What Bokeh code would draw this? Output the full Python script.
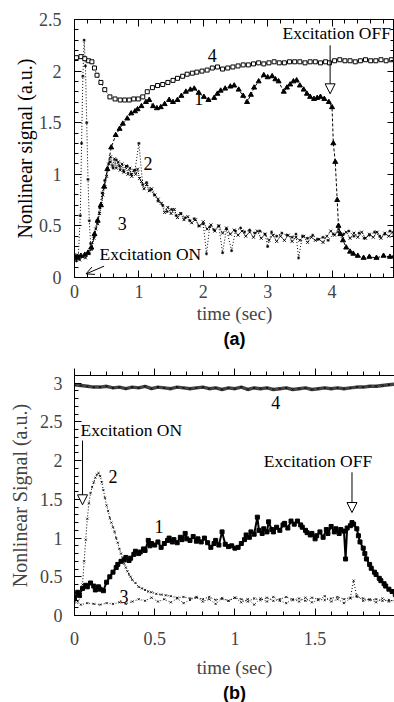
import math
from bokeh.plotting import figure
from bokeh.layouts import column
from bokeh.models import (Range1d, SingleIntervalTicker, LinearAxis, Label, Arrow, Title,
                          NormalHead, OpenHead, CustomJSTickFormatter)
from bokeh.embed import file_html
from bokeh.resources import INLINE

SERIF = "Liberation Serif"

# ---------------- Panel (a) data ----------------
a4_t = [0.03,0.10,0.16,0.22,0.27,0.31,0.35,0.41,0.47,0.55,0.63,0.71,0.78,0.85,0.92,0.99,1.06,1.13,1.21,1.29,
        1.37,1.45,1.53,1.60,1.68,1.75,1.83,1.90,1.98,2.06,2.14,2.22,2.30,2.38,2.46,2.54,2.62,2.70,2.78,2.86,
        2.94,3.02,3.10,3.18,3.26,3.34,3.42,3.50,3.58,3.66,3.74,3.82,3.90,3.96,4.04,4.12,4.20,4.28,4.36,4.44,
        4.52,4.60,4.68,4.76,4.84,4.92]
a4_v = [2.13,2.14,2.12,2.10,2.09,2.03,1.96,1.89,1.82,1.75,1.73,1.72,1.72,1.72,1.73,1.73,1.75,1.80,1.84,1.86,
        1.87,1.89,1.91,1.93,1.95,1.97,1.98,1.99,2.00,2.01,2.03,2.04,2.02,2.03,2.04,2.05,2.06,2.06,2.07,2.08,
        2.07,2.08,2.09,2.08,2.08,2.09,2.09,2.09,2.08,2.09,2.09,2.08,2.09,2.08,2.10,2.11,2.10,2.10,2.09,2.10,
        2.11,2.10,2.10,2.11,2.10,2.11]

a1_t = [0.00,0.05,0.10,0.16,0.21,0.26,0.31,0.36,0.41,0.46,0.51,0.57,0.64,0.70,0.75,0.82,0.88,0.94,0.98,1.04,
        1.11,1.16,1.22,1.28,1.34,1.40,1.47,1.53,1.60,1.66,1.73,1.80,1.86,1.93,2.01,2.08,2.17,2.22,2.27,2.34,
        2.42,2.48,2.55,2.62,2.68,2.74,2.79,2.86,2.94,3.00,3.07,3.12,3.17,3.25,3.30,3.35,3.40,3.45,3.50,3.56,
        3.61,3.66,3.72,3.77,3.82,3.88,3.95,4.00,4.02,4.05,4.08,4.10,4.13,4.17,4.22,4.28,4.33,4.40,4.49,4.58,
        4.69,4.80,4.90,4.97]
a1_v = [0.20,0.19,0.21,0.22,0.24,0.29,0.42,0.55,0.70,0.88,1.05,1.26,1.38,1.44,1.49,1.54,1.59,1.61,1.63,1.66,
        1.70,1.72,1.66,1.64,1.65,1.68,1.72,1.70,1.72,1.76,1.80,1.82,1.83,1.79,1.75,1.72,1.74,1.78,1.81,1.83,
        1.85,1.86,1.82,1.76,1.70,1.77,1.84,1.90,1.96,1.94,1.95,1.92,1.90,1.80,1.84,1.87,1.90,1.91,1.86,1.82,
        1.78,1.75,1.73,1.74,1.75,1.73,1.70,1.65,1.30,1.12,0.75,0.50,0.42,0.36,0.29,0.25,0.23,0.21,0.19,0.20,
        0.19,0.21,0.20,0.21]

a2_t = [0.00,0.04,0.08,0.12,0.17,0.22,0.26,0.30,0.33,0.36,0.39,0.42,0.44,0.47,0.50,0.53,0.56,0.59,0.62,0.65,
        0.68,0.71,0.74,0.77,0.80,0.83,0.86,0.89,0.92,0.95,0.98,1.01,1.04,1.08,1.12,1.16,1.20,1.25,1.30,1.35,
        1.40,1.45,1.50,1.55,1.60,1.65,1.70,1.76,1.82,1.88,1.94,2.00,2.06,2.12,2.18,2.24,2.30,2.36,2.42,2.48,
        2.54,2.60,2.66,2.72,2.78,2.84,2.90,2.96,3.02,3.08,3.14,3.20,3.26,3.32,3.38,3.44,3.50,3.56,3.62,3.68,
        3.74,3.80,3.86,3.92,3.98,4.04,4.10,4.16,4.22,4.28,4.34,4.40,4.46,4.52,4.58,4.64,4.70,4.76,4.82,4.88,
        4.94]
a2_v = [0.18,0.22,0.17,0.20,0.19,0.23,0.27,0.38,0.47,0.52,0.62,0.70,0.80,0.88,0.98,1.10,1.17,1.08,1.15,1.06,
        1.12,1.04,1.10,1.02,1.08,1.00,1.06,0.98,1.04,1.00,1.05,0.96,0.93,0.86,0.90,0.84,0.86,0.80,0.76,0.72,
        0.63,0.68,0.62,0.66,0.58,0.62,0.56,0.59,0.53,0.56,0.50,0.54,0.47,0.51,0.45,0.50,0.43,0.48,0.42,0.46,
        0.41,0.45,0.40,0.44,0.39,0.45,0.38,0.42,0.36,0.41,0.35,0.40,0.36,0.41,0.35,0.39,0.36,0.40,0.34,0.39,
        0.36,0.37,0.34,0.40,0.45,0.41,0.47,0.40,0.44,0.38,0.43,0.39,0.44,0.38,0.42,0.39,0.44,0.38,0.43,0.40,
        0.44]

a3_t = [0.00,0.03,0.06,0.09,0.11,0.13,0.15,0.17,0.19,0.21,0.23,0.25,0.27,0.31,0.35,0.39,0.43,0.47,0.51,0.55,
        0.60,0.65,0.70,0.76,0.82,0.88,0.94,1.00,1.06,1.12,1.18,1.24,1.30,1.37,1.44,1.51,1.58,1.65,1.72,1.79,
        1.86,1.93,2.00,2.05,2.10,2.17,2.24,2.30,2.36,2.44,2.50,2.58,2.64,2.72,2.80,2.88,2.96,3.00,3.06,3.14,
        3.22,3.30,3.38,3.44,3.48,3.54,3.62,3.70,3.78,3.86,3.94,4.02,4.10,4.18,4.26,4.34,4.42,4.50,4.58,4.66,
        4.74,4.82,4.90,4.96]
a3_v = [0.22,0.16,0.21,0.60,1.30,1.95,2.30,2.05,1.50,0.95,0.55,0.33,0.28,0.40,0.55,0.68,0.82,0.94,1.04,1.12,
        1.06,1.14,1.08,1.03,1.08,1.00,1.04,1.30,0.90,0.92,0.85,0.80,0.74,0.70,0.64,0.66,0.60,0.62,0.58,0.55,
        0.57,0.50,0.52,0.23,0.49,0.46,0.50,0.24,0.47,0.26,0.45,0.48,0.44,0.46,0.43,0.45,0.42,0.30,0.44,0.40,
        0.43,0.41,0.39,0.42,0.19,0.40,0.38,0.41,0.37,0.39,0.36,0.42,0.44,0.42,0.45,0.40,0.43,0.38,0.41,0.44,
        0.40,0.42,0.45,0.41]

# ---------------- Panel (b) data ----------------
b4_t = [0.00,0.04,0.08,0.12,0.16,0.20,0.24,0.28,0.32,0.36,0.40,0.44,0.48,0.52,0.56,0.60,0.64,0.68,0.72,0.76,
        0.80,0.84,0.88,0.92,0.96,1.00,1.04,1.08,1.12,1.16,1.20,1.24,1.28,1.32,1.36,1.40,1.44,1.48,1.52,1.56,
        1.60,1.64,1.68,1.72,1.76,1.80,1.84,1.88,1.92,1.96,2.00]
b4_v = [2.98,2.97,2.96,2.95,2.95,2.96,2.94,2.95,2.93,2.95,2.94,2.96,2.93,2.95,2.94,2.93,2.95,2.94,2.93,2.94,
        2.95,2.93,2.94,2.92,2.94,2.93,2.95,2.92,2.94,2.93,2.94,2.92,2.93,2.94,2.92,2.93,2.94,2.92,2.93,2.94,
        2.93,2.94,2.93,2.94,2.95,2.95,2.96,2.96,2.97,2.98,2.99]

b1_t = [0.00,0.02,0.03,0.05,0.07,0.08,0.10,0.12,0.13,0.15,0.16,0.18,0.20,0.22,0.24,0.26,0.27,0.29,0.31,0.32,
        0.34,0.35,0.37,0.38,0.40,0.41,0.43,0.44,0.46,0.47,0.48,0.50,0.52,0.54,0.56,0.58,0.59,0.61,0.62,0.64,
        0.66,0.67,0.69,0.70,0.72,0.74,0.76,0.77,0.79,0.81,0.83,0.85,0.87,0.88,0.90,0.92,0.94,0.96,0.98,1.00,
        1.02,1.04,1.06,1.07,1.09,1.10,1.12,1.14,1.15,1.17,1.18,1.20,1.21,1.23,1.24,1.26,1.28,1.30,1.31,1.33,
        1.35,1.37,1.39,1.41,1.42,1.44,1.45,1.47,1.48,1.50,1.51,1.53,1.55,1.57,1.58,1.60,1.62,1.63,1.65,1.66,
        1.68,1.69,1.70,1.72,1.73,1.74,1.76,1.77,1.78,1.80,1.81,1.82,1.84,1.85,1.87,1.88,1.90,1.91,1.93,1.94,
        1.96,1.98,2.00]
b1_v = [0.22,0.30,0.26,0.35,0.39,0.37,0.42,0.38,0.33,0.37,0.34,0.32,0.43,0.50,0.56,0.62,0.66,0.70,0.72,0.75,
        0.71,0.74,0.79,0.83,0.80,0.82,0.86,0.84,0.97,0.90,0.93,0.91,0.95,0.88,0.93,0.97,1.00,0.95,0.98,0.94,
        1.01,0.98,1.06,0.99,0.97,1.02,0.96,0.99,0.95,1.00,0.94,0.88,0.93,0.97,0.91,1.08,0.92,0.89,0.90,0.87,
        0.88,0.93,0.98,1.04,1.01,1.08,1.05,1.27,1.10,1.06,1.12,1.08,1.21,1.11,1.08,1.14,1.10,1.17,1.19,1.13,
        1.22,1.18,1.22,1.17,1.14,1.10,1.07,1.04,1.06,0.99,1.03,1.08,1.01,1.11,1.06,1.15,1.08,1.12,1.06,1.11,
        1.09,0.73,1.13,1.16,1.20,1.18,1.12,1.03,0.95,0.87,0.80,0.73,0.66,0.61,0.56,0.53,0.48,0.45,0.41,0.38,
        0.34,0.31,0.27]

b2_t = [0.00,0.02,0.04,0.05,0.06,0.07,0.08,0.09,0.10,0.11,0.12,0.13,0.14,0.15,0.16,0.17,0.18,0.19,0.20,0.21,
        0.22,0.23,0.24,0.25,0.26,0.27,0.28,0.29,0.30,0.31,0.32,0.33,0.34,0.35,0.36,0.38,0.40,0.42,0.44,0.46,
        0.48,0.51,0.54,0.57,0.60,0.64,0.68,0.72,0.76,0.80,0.84,0.88,0.92,0.96,1.00,1.04,1.08,1.12,1.16,1.20,
        1.24,1.28,1.32,1.36,1.40,1.44,1.48,1.52,1.56,1.60,1.64,1.68,1.72,1.74,1.76,1.80,1.84,1.88,1.92,1.96,
        2.00]
b2_v = [0.20,0.18,0.24,0.40,0.70,0.98,1.25,1.45,1.58,1.66,1.72,1.78,1.82,1.84,1.80,1.72,1.62,1.52,1.42,1.35,
        1.26,1.20,1.14,1.08,1.00,0.94,0.86,0.80,0.73,0.67,0.62,0.57,0.53,0.50,0.46,0.42,0.37,0.35,0.33,0.31,
        0.30,0.28,0.27,0.26,0.25,0.23,0.24,0.22,0.23,0.21,0.24,0.20,0.22,0.19,0.23,0.21,0.18,0.22,0.20,0.23,
        0.19,0.21,0.24,0.20,0.22,0.19,0.23,0.21,0.20,0.22,0.24,0.21,0.23,0.45,0.24,0.22,0.20,0.21,0.19,0.20,
        0.18]

b3_t = [0.00,0.04,0.08,0.12,0.16,0.20,0.24,0.28,0.32,0.36,0.40,0.44,0.48,0.52,0.56,0.60,0.64,0.68,0.72,0.76,
        0.80,0.84,0.88,0.92,0.96,1.00,1.04,1.08,1.12,1.16,1.20,1.24,1.28,1.32,1.36,1.40,1.44,1.48,1.52,1.56,
        1.60,1.64,1.68,1.72,1.76,1.80,1.84,1.88,1.92,1.96,2.00]
b3_v = [0.17,0.14,0.16,0.15,0.14,0.16,0.15,0.17,0.15,0.18,0.21,0.19,0.23,0.18,0.21,0.17,0.22,0.16,0.20,0.24,
        0.18,0.21,0.15,0.22,0.19,0.23,0.17,0.21,0.14,0.22,0.18,0.24,0.19,0.16,0.21,0.18,0.23,0.17,0.20,0.25,
        0.18,0.21,0.16,0.22,0.26,0.19,0.21,0.17,0.22,0.18,0.20]

TICK_FMT = "return (Math.round(tick*10)/10).toString();"


def style_axis(ax, interval, minor, labels=True, size="18px", standoff=3,
               t_in=7, m_in=4, t_out=0, m_out=0):
    ax.ticker = SingleIntervalTicker(interval=interval, num_minor_ticks=minor)
    ax.axis_line_color = "black"
    ax.axis_line_width = 1
    ax.major_tick_in = t_in
    ax.major_tick_out = t_out
    ax.minor_tick_in = m_in
    ax.minor_tick_out = m_out
    ax.major_tick_line_color = "black"
    ax.minor_tick_line_color = "black"
    if labels:
        ax.formatter = CustomJSTickFormatter(code=TICK_FMT)
        ax.major_label_text_font = SERIF
        ax.major_label_text_font_size = size
        ax.major_label_standoff = standoff
    else:
        ax.formatter = CustomJSTickFormatter(code="return '';")
        ax.major_label_text_font_size = "0px"
        ax.major_label_standoff = 0
    ax.axis_label_text_font = SERIF
    ax.axis_label_text_font_style = "normal"
    ax.axis_label_text_font_size = "19px"


def txt(p, x, y, s, size="18px", align="center"):
    p.add_layout(Label(x=x, y=y, text=s, text_font=SERIF, text_font_size=size,
                       text_align=align, text_baseline="middle", text_color="black"))


def panel_title(p, s, place, size="18px", font="Liberation Sans", style="bold", offset=0, standoff=0):
    p.add_layout(Title(text=s, align="center", text_font=font, text_font_size=size,
                       text_font_style=style, text_color="black", offset=offset,
                       standoff=standoff), place)


# ---------------- Panel (a) ----------------
p1 = figure(width=394, height=352, x_range=Range1d(0, 4.97), y_range=Range1d(0, 2.5),
            output_backend="svg", toolbar_location=None,
            min_border_left=73, min_border_right=0, min_border_top=19, min_border_bottom=75,
            outline_line_color="black")
p1.grid.visible = False
style_axis(p1.xaxis[0], 1, 5, standoff=7)
style_axis(p1.yaxis[0], 0.5, 5, standoff=13)
p1.xaxis[0].axis_label = "time (sec)"
p1.xaxis[0].axis_label_standoff = 2
p1.add_layout(LinearAxis(), "above")
style_axis(p1.above[0], 1, 5, labels=False)
p1.add_layout(LinearAxis(), "right")
style_axis(p1.right[0], 0.5, 5, labels=False)

p1.line(a3_t, a3_v, line_dash="1 2", color="black", line_width=1)
p1.scatter(a3_t, a3_v, marker="asterisk", size=3, color="black", line_width=0.8)
p1.line(a2_t, a2_v, line_dash="1 1", color="black", line_width=1)
p1.scatter(a2_t, a2_v, marker="x", size=4, color="black", line_width=1)
p1.line(a1_t, a1_v, line_dash="3 2", color="black", line_width=1)
p1.scatter(a1_t, a1_v, marker="triangle", size=5, color="black")
p1.line(a4_t, a4_v, line_dash="1 2", color="black", line_width=1)
p1.scatter(a4_t, a4_v, marker="square", size=4, fill_color="white", line_color="black", line_width=1)

p1.add_layout(Arrow(x_start=3.97, y_start=2.25, x_end=3.97, y_end=1.78, line_width=1,
                    end=NormalHead(size=10, fill_color="white", line_color="black", line_width=1)))
p1.add_layout(Arrow(x_start=0.46, y_start=0.11, x_end=0.18, y_end=0.035, line_width=1,
                    end=OpenHead(size=8, line_color="black", line_width=1)))
txt(p1, 3.23, 2.37, "Excitation OFF", size="17.5px", align="left")
txt(p1, 0.39, 0.23, "Excitation ON", size="17.5px", align="left")
txt(p1, 2.14, 2.15, "4")
txt(p1, 1.93, 1.73, "1")
txt(p1, 1.14, 1.10, "2")
txt(p1, 0.74, 0.52, "3")
panel_title(p1, "Nonlinear signal (a.u.)", "left", size="20px", font=SERIF, style="normal", offset=21)
panel_title(p1, "(a)", "below")

# ---------------- Panel (b) ----------------
p2 = figure(width=394, height=350, x_range=Range1d(0, 1.995), y_range=Range1d(0, 3.1),
            output_backend="svg", toolbar_location=None,
            min_border_left=74, min_border_right=0, min_border_top=23, min_border_bottom=79,
            outline_line_color=None)
p2.grid.visible = False
style_axis(p2.xaxis[0], 0.5, 5, standoff=16)
style_axis(p2.yaxis[0], 0.5, 5, standoff=12)
p2.xaxis[0].axis_label = "time (sec)"
p2.xaxis[0].axis_label_standoff = 9
p2.yaxis[0].axis_label = "Nonlinear Signal (a.u.)"
p2.yaxis[0].axis_label_standoff = 6
p2.yaxis[0].axis_label_text_font_size = "20px"
p2.add_layout(LinearAxis(), "above")
style_axis(p2.above[0], 0.5, 5, labels=False, t_in=0, m_in=0, t_out=7, m_out=4)

p2.line(b3_t, b3_v, line_dash="1 2", color="black", line_width=0.8)
p2.scatter(b3_t, b3_v, marker="x", size=3, color="black", line_width=0.8)
p2.line(b2_t, b2_v, line_dash="1 2", color="black", line_width=1)
p2.scatter(b2_t, b2_v, marker="x", size=3, color="black", line_width=0.8)
p2.line(b1_t, b1_v, color="black", line_width=2)
p2.scatter(b1_t, b1_v, marker="square", size=4, color="black")
p2.line(b4_t, b4_v, color="#444444", line_width=3.5)
p2.scatter(b4_t, b4_v, marker="x", size=3, color="black", line_width=0.8)

p2.add_layout(Arrow(x_start=0.05, y_start=2.26, x_end=0.05, y_end=1.43, line_width=1,
                    end=NormalHead(size=10, fill_color="white", line_color="black", line_width=1)))
p2.add_layout(Arrow(x_start=1.73, y_start=1.85, x_end=1.73, y_end=1.33, line_width=1,
                    end=NormalHead(size=10, fill_color="white", line_color="black", line_width=1)))
txt(p2, 0.0375, 2.40, "Excitation ON", size="17.5px", align="left")
txt(p2, 1.18, 2.00, "Excitation OFF", size="17.5px", align="left")
txt(p2, 1.254, 2.75, "4")
txt(p2, 0.24, 1.79, "2")
txt(p2, 0.527, 1.15, "1")
txt(p2, 0.308, 0.24, "3")
panel_title(p2, "(b)", "below")

layout = column(p1, p2)
open("out.html", "w").write(file_html(layout, INLINE))
